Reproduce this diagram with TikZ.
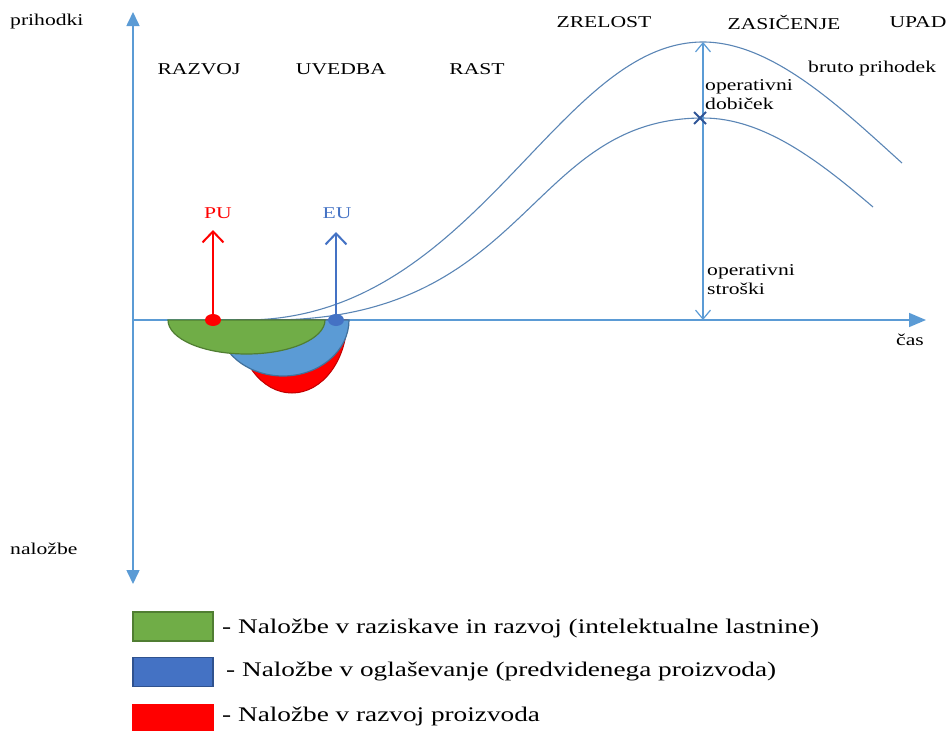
\documentclass[tikz,border=0pt]{standalone}
\usepackage{fontspec}
\setmainfont{Liberation Serif}[FakeStretch=1.31]
\usetikzlibrary{arrows.meta,calc}
\definecolor{axisblue}{HTML}{5B9BD5}
\definecolor{curveblue}{HTML}{5A85B5}
\definecolor{eublue}{HTML}{4472C4}
\definecolor{eudark}{HTML}{2F528F}
\definecolor{rdgreen}{HTML}{70AD47}
\definecolor{rdgreenedge}{HTML}{507E32}
\definecolor{adblue}{HTML}{5B9BD5}
\definecolor{adblueedge}{HTML}{41719C}
\definecolor{pdred}{HTML}{FF0000}
\definecolor{pdrededge}{HTML}{C00000}
\definecolor{xmark}{HTML}{2F5597}
\tikzset{
  axisline/.style={axisblue, line width=1.6pt},
  curve/.style={curveblue, line width=1.1pt},
  lbl/.style={inner sep=0pt, font=\fontsize{16.5}{19}\selectfont},
  lgd/.style={inner sep=0pt, anchor=west, font=\fontsize{20.8}{24}\selectfont},
  swatch/.style={minimum width=80pt, minimum height=29pt, inner sep=0pt, line width=1.2pt},
}
\begin{document}
\begin{tikzpicture}[x=1pt, y=-1pt]
\useasboundingbox (0,0) rectangle (951,731);

% axes
\coordinate (origin) at (133,320);
\coordinate (vtop) at (133,12);
\coordinate (vbot) at (133,584);
\coordinate (hend) at (926,320);
\draw[axisline, {Triangle[length=14pt, width=13pt]}-{Triangle[length=14pt, width=13pt]}] (vbot) -- (vtop);
\draw[axisline, -{Triangle[length=17pt, width=14pt]}] (origin) -- (hend);

% gross revenue curve and operating cost curve
\coordinate (revstart) at (245,320);
\coordinate (peak) at (703,42);
\coordinate (revend) at (902,163);
\draw[curve] (revstart) .. controls (475,320) and (556,42) .. (peak)
  .. controls (773,42) and (842,109) .. (revend);
\coordinate (coststart) at (270,320);
\coordinate (costpeak) at (703,118);
\coordinate (costend) at (873,207);
\draw[curve] (coststart) .. controls (530,320) and (527,118) .. (costpeak)
  .. controls (763,118) and (818,160) .. (costend);

% investment areas below the time axis
\draw[pdrededge, fill=pdred, line width=1pt]
  (237,320) arc[start angle=180, end angle=0, x radius=55, y radius=73] -- cycle;
\draw[adblueedge, fill=adblue, line width=1.2pt]
  (217,320) arc[start angle=180, end angle=0, x radius=66, y radius=56] -- cycle;
\draw[rdgreenedge, fill=rdgreen, line width=1.2pt]
  (168,320) arc[start angle=180, end angle=0, x radius=78.5, y radius=34] -- cycle;

% product start (PU) and advertising start (EU)
\fill[pdred] (213,320) ellipse[x radius=8, y radius=6];
\coordinate (putop) at (213,230);
\draw[pdred, line width=2pt, -{Straight Barb[length=11pt, width=21pt]}] (213,320) -- (putop);
\node[lbl, text=pdred] (pu) at (218,213) {PU};
\fill[eublue] (336,320) ellipse[x radius=8, y radius=6];
\coordinate (eutop) at (336,232);
\draw[eublue, line width=2pt, -{Straight Barb[length=11pt, width=21pt]}] (336,320) -- (eutop);
\node[lbl, text=eublue] (eu) at (337,213) {EU};

% peak measurement
\coordinate (peakbase) at (703,320);
\draw[axisblue, line width=1.2pt, {Straight Barb[length=9pt, width=15pt]}-{Straight Barb[length=9pt, width=15pt]}] (peakbase) -- (peak);
\coordinate (cross) at (700,118);
\draw[xmark, line width=2pt] ($(cross)+(-6,-6)$) -- ($(cross)+(6,6)$);
\draw[xmark, line width=2pt] ($(cross)+(-6,6)$) -- ($(cross)+(6,-6)$);

% axis and phase labels
\node[lbl, anchor=west] (prihodki) at (10,22) {prihodki};
\node[lbl, anchor=west] (nalozbe) at (10,549) {naložbe};
\node[lbl] (cas) at (910,340) {čas};
\node[lbl] (razvoj) at (199,69) {RAZVOJ};
\node[lbl] (uvedba) at (341,69) {UVEDBA};
\node[lbl] (rast) at (477,69) {RAST};
\node[lbl] (zrelost) at (604,22) {ZRELOST};
\node[lbl] (zasicenje) at (784,22) {ZASIČENJE};
\node[lbl] (upad) at (918,22) {UPAD};
\node[lbl, anchor=west] (bruto) at (808,69) {bruto prihodek};
\node[lbl, anchor=west, align=left] (dobicek) at (705,95) {operativni\\dobiček};
\node[lbl, anchor=west, align=left] (stroski) at (707,280) {operativni\\stroški};

% legend
\node[swatch, draw=rdgreenedge, fill=rdgreen] (sw1) at (173,626.5) {};
\node[swatch, draw=eudark, fill=eublue] (sw2) at (173,672) {};
\node[swatch, draw=pdred, fill=pdred] (sw3) at (173,719) {};
\node[lgd] (l1) at (222,628) {- Naložbe v raziskave in razvoj (intelektualne lastnine)};
\node[lgd] (l2) at (226,672) {- Naložbe v oglaševanje (predvidenega proizvoda)};
\node[lgd] (l3) at (222,716) {- Naložbe v razvoj proizvoda};
\end{tikzpicture}
\end{document}
